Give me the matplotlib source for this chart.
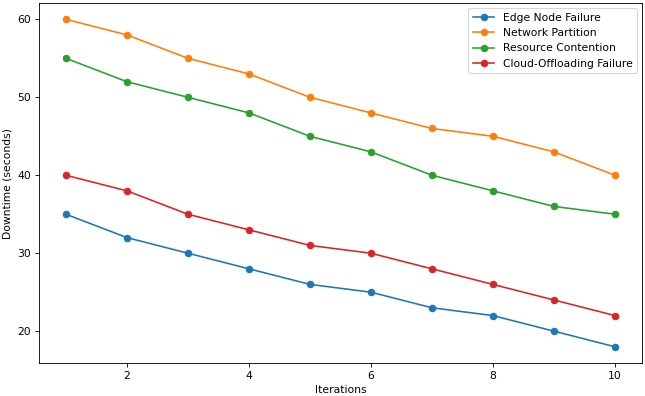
import matplotlib
matplotlib.use("Agg")
import matplotlib.pyplot as plt
import numpy as np

# data
iterations = np.arange(1, 11)
edge_node = [35, 32, 30, 28, 26, 25, 23, 22, 20, 18]
network_partition = [60, 58, 55, 53, 50, 48, 46, 45, 43, 40]
resource_contention = [55, 52, 50, 48, 45, 43, 40, 38, 36, 35]
cloud_offloading = [40, 38, 35, 33, 31, 30, 28, 26, 24, 22]

DPI = 77.4
fig, ax = plt.subplots(figsize=(645 / DPI, 396 / DPI), dpi=DPI)
fig.subplots_adjust(left=0.0597, right=0.996, bottom=0.083, top=0.9925)

ax.plot(iterations, edge_node, marker='o', label='Edge Node Failure')
ax.plot(iterations, network_partition, marker='o', label='Network Partition')
ax.plot(iterations, resource_contention, marker='o', label='Resource Contention')
ax.plot(iterations, cloud_offloading, marker='o', label='Cloud-Offloading Failure')

ax.set_xlabel('Iterations')
ax.set_ylabel('Downtime (seconds)')
ax.legend()

fig.savefig("out.png", dpi=DPI)
